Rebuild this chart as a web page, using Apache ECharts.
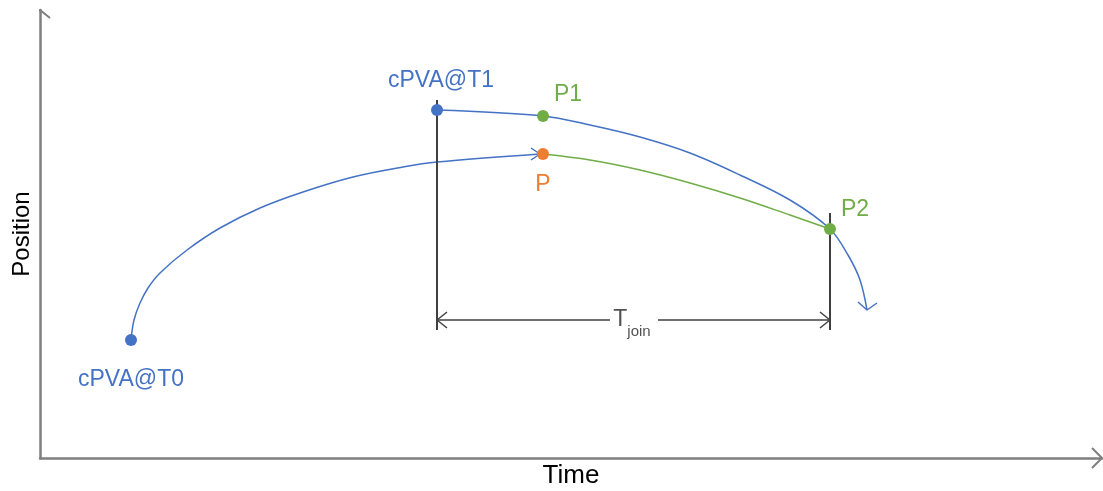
<!DOCTYPE html>
<html>
<head>
<meta charset="utf-8">
<script src="https://cdn.jsdelivr.net/npm/echarts@6/dist/echarts.min.js"></script>
<style>
  html, body { margin: 0; padding: 0; background: #fff; }
  #main { width: 1103px; height: 491px; }
</style>
</head>
<body>
<div id="main"></div>
<script>
// coordinates in the diagram's own units (origin at the axes corner)
var curveT0 = [[91, 118], [94, 138], [100, 155], [108, 170], [120, 185], [147, 208], [180, 230], [220, 250], [263, 266], [313, 281], [363, 291], [397, 296], [500, 304]];
var curveT1 = [[397, 348], [503, 342], [550, 333], [600, 321], [650, 305], [700, 283], [750, 258], [790, 229], [808, 203], [820, 178], [827, 148]];
var curveJoin = [[503, 304], [550, 298], [600, 288], [650, 275], [700, 260], [750, 243], [790, 229]];

var pointsBlue = [[91, 118, 'cPVA@T0'], [397, 348, 'cPVA@T1']];
var pointsGreen = [[503, 342, 'P1'], [790, 229, 'P2']];
var pointOrange = [[503, 304, 'P']];

var markerT1 = [[397, 358], [397, 128]];
var markerT2 = [[790, 245], [790, 128]];
var spanY = 138;
var spanLeft = [[397, spanY], [570, spanY]];
var spanRight = [[618, spanY], [790, spanY]];
var tjoinAt = [[592, spanY]];

var heads = [
    [[-10, 440], [0, 448], [10, 440]],
    [[1052, 10], [1062, 0], [1052, -10]],
    [[491, 310], [500, 304], [491, 298]],
    [[818, 156], [827, 148], [837, 155]],
    [[407, 146], [397, 138], [407, 130]],
    [[780, 146], [790, 138], [780, 130]]
];

var blue = '#4472c4', green = '#70ad47', orange = '#ed7d31', dark = '#404040';
var font = 'Liberation Sans, Arial, sans-serif';

function line(data, color, width, smooth) {
    return {
        type: 'line', data: data, smooth: smooth ? 0.35 : false,
        symbol: 'none', silent: true, clip: false,
        lineStyle: { color: color, width: width }, z: 2
    };
}

function dots(data, color, labelColor, pos, offset) {
    return {
        type: 'scatter', data: data, symbolSize: 12, z: 5, silent: true, clip: false,
        itemStyle: { color: color, opacity: 1 },
        label: {
            show: true, position: pos, offset: offset, color: labelColor,
            fontFamily: font, fontSize: 23,
            formatter: function (p) { return p.data[2]; }
        }
    };
}

var series = [
    line(curveT0, blue, 1.5, true),
    line(curveT1, blue, 1.5, true),
    line(curveJoin, green, 1.5, true),
    line(markerT1, dark, 2),
    line(markerT2, dark, 2),
    line(spanLeft, dark, 1.5),
    line(spanRight, dark, 1.5)
];
heads.forEach(function (h, i) {
    var c = i < 2 ? '#7f7f7f' : (i < 4 ? blue : dark);
    series.push(line(h, c, i < 2 ? 2 : 1.5));
});
series.push({
    type: 'scatter', data: tjoinAt, symbolSize: 0, silent: true, z: 6,
    label: {
        show: true, position: 'inside', offset: [0, 4],
        formatter: '{t|T}{s|join}',
        rich: {
            t: { fontFamily: font, fontSize: 23, color: '#262626', verticalAlign: 'top', padding: [0, 0, 8, 0] },
            s: { fontFamily: font, fontSize: 15, color: '#262626', verticalAlign: 'bottom', padding: [10, 0, 0, 0] }
        }
    }
});
series.push(dots([pointsBlue[0]], blue, blue, 'bottom', [0, 17]));
series.push(dots([pointsBlue[1]], blue, blue, 'top', [4, -7]));
series.push(dots([pointsGreen[0]], green, green, 'right', [0, -21]));
series.push(dots([pointsGreen[1]], green, green, 'right', [0, -19]));
series.push(dots(pointOrange, orange, orange, 'bottom', [0, 8]));

var chart = echarts.init(document.getElementById('main'));
chart.setOption({
    animation: false,
    grid: { left: 40, right: 1, top: 10, bottom: 33, outerBoundsMode: 'none' },
    xAxis: {
        type: 'value', min: 0, max: 1062,
        name: 'Time', nameLocation: 'middle', nameGap: 5,
        nameTextStyle: { fontFamily: font, fontSize: 26, color: '#000' },
        axisLine: { show: true, onZero: false, lineStyle: { color: '#7f7f7f', width: 2.5 } },
        axisTick: { show: false }, axisLabel: { show: false }, splitLine: { show: false }
    },
    yAxis: {
        type: 'value', min: 0, max: 448,
        name: 'Position', nameLocation: 'middle', nameGap: 6, nameRotate: 90,
        nameTextStyle: { fontFamily: font, fontSize: 24, color: '#000' },
        axisLine: { show: true, onZero: false, lineStyle: { color: '#7f7f7f', width: 2.5 } },
        axisTick: { show: false }, axisLabel: { show: false }, splitLine: { show: false }
    },
    series: series
});
</script>
</body>
</html>
